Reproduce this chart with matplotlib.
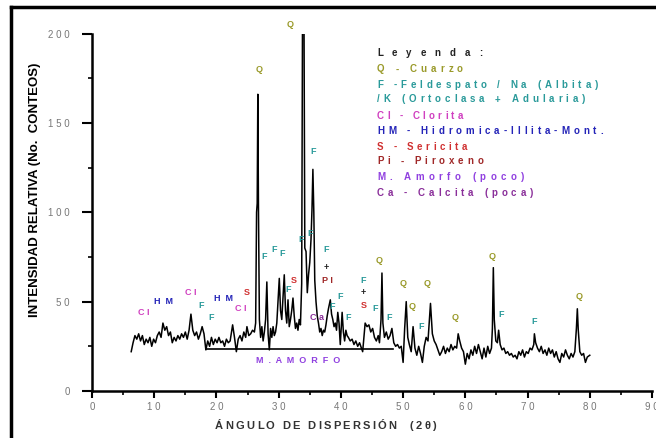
import matplotlib
matplotlib.use("Agg")
import matplotlib.pyplot as plt
from matplotlib.lines import Line2D
from matplotlib.font_manager import FontProperties
from matplotlib.ticker import MultipleLocator, FixedLocator, FixedFormatter

plt.rcParams['font.family'] = ['Liberation Sans', 'DejaVu Sans']

# ---- data ----
two_theta = [6.3, 6.6, 6.9, 7.2, 7.5, 7.8, 8.1, 8.4, 8.7, 9.0, 9.3, 9.6, 9.9, 10.2, 10.5, 10.8,
             11.1, 11.4, 11.7, 12.0, 12.3, 12.6, 12.9, 13.2, 13.5, 13.8, 14.1, 14.4, 14.7, 15.0,
             15.3, 15.6, 15.9, 16.2, 16.5, 16.8, 17.1, 17.4, 17.7, 18.0, 18.3, 18.6, 18.9, 19.2,
             19.5, 19.8, 20.1, 20.4, 20.7, 21.0, 21.3, 21.6, 21.9, 22.2, 22.6, 22.9, 23.2, 23.5,
             23.8, 24.1, 24.4, 24.7, 24.9, 25.2, 25.5, 25.8, 26.1, 26.3, 26.45, 26.55, 26.65,
             26.75, 26.9, 27.1, 27.3, 27.5, 27.7, 27.9, 28.1, 28.3, 28.5, 28.7, 28.9, 29.1, 29.3,
             29.5, 29.7, 29.9, 30.1, 30.3, 30.5, 30.7, 30.9, 31.1, 31.3, 31.5, 31.7, 31.9, 32.1,
             32.3, 32.5, 32.7, 32.9, 33.1, 33.3, 33.5, 33.7, 33.85, 34.05, 34.2, 34.4, 34.6, 34.8,
             35.0, 35.2, 35.35, 35.5, 35.65, 35.8, 36.0, 36.2, 36.4, 36.6, 36.8, 37.0, 37.2, 37.4,
             37.6, 37.8, 38.0, 38.3, 38.5, 38.7, 38.9, 39.1, 39.3, 39.5, 39.7, 39.9, 40.2, 40.4,
             40.6, 40.8, 41.0, 41.2, 41.5, 41.8, 42.1, 42.4, 42.7, 43.0, 43.3, 43.5, 43.7, 43.9,
             44.2, 44.5, 44.8, 45.1, 45.4, 45.7, 46.0, 46.2, 46.45, 46.6, 46.75, 47.0, 47.3, 47.6,
             47.9, 48.2, 48.5, 48.8, 49.1, 49.4, 49.7, 50.0, 50.25, 50.5, 50.75, 51.0, 51.3, 51.6,
             51.9, 52.2, 52.5, 52.8, 53.1, 53.4, 53.7, 54.0, 54.4, 54.7, 55.0, 55.3, 55.6, 55.9,
             56.2, 56.5, 56.8, 57.1, 57.4, 57.7, 58.0, 58.3, 58.6, 58.85, 59.1, 59.4, 59.7, 60.0,
             60.3, 60.6, 60.9, 61.2, 61.5, 61.8, 62.1, 62.4, 62.7, 63.0, 63.3, 63.6, 63.9, 64.2,
             64.35, 64.5, 64.65, 64.9, 65.15, 65.35, 65.6, 65.9, 66.2, 66.5, 66.8, 67.1, 67.4,
             67.7, 68.0, 68.3, 68.6, 68.9, 69.2, 69.5, 69.8, 70.1, 70.4, 70.7, 71.0, 71.1, 71.3,
             71.6, 71.9, 72.2, 72.5, 72.8, 73.1, 73.4, 73.7, 74.0, 74.3, 74.6, 74.9, 75.2, 75.5,
             75.8, 76.1, 76.4, 76.7, 77.0, 77.3, 77.6, 77.85, 78.0, 78.15, 78.4, 78.7, 79.0, 79.3,
             79.6, 80.0]
counts = [22, 27, 31, 29, 32, 28, 31, 26, 29, 27, 30, 25, 29, 27, 31, 33,
          30, 38, 34, 36, 31, 33, 27, 30, 28, 31, 29, 32, 30, 33,
          29, 34, 43, 34, 31, 33, 29, 32, 36, 32, 23, 28, 25, 30,
          26, 29, 27, 30, 27, 28, 25, 29, 27, 28, 37, 30, 22, 29,
          31, 28, 33, 30, 36, 31, 32, 34, 33, 38, 100, 105, 166,
          104, 40, 30, 36, 28, 33, 40, 61, 32, 23, 35, 30, 36, 31,
          33, 38, 50, 63, 45, 40, 52, 65, 45, 38, 51, 36, 40, 45,
          52, 42, 35, 38, 34, 40, 37, 60, 230, 230, 80, 78, 55, 65,
          72, 85, 101, 124, 100, 62, 50, 42, 38, 33, 35, 31, 34, 33,
          37, 42, 46, 51, 43, 40, 36, 38, 34, 44, 38, 26, 44, 33,
          28, 34, 31, 30, 28, 29, 26, 28, 25, 27, 24, 22, 30, 38,
          36, 37, 33, 35, 30, 28, 31, 27, 40, 66, 38, 30, 33, 29,
          31, 35, 27, 25, 26, 24, 25, 16, 35, 50, 30, 26, 22, 36,
          24, 20, 25, 21, 16, 25, 30, 28, 49, 32, 28, 26, 23, 20,
          22, 25, 21, 24, 22, 26, 23, 25, 24, 32, 28, 24, 22, 15,
          21, 18, 23, 20, 25, 21, 26, 22, 18, 24, 19, 25, 21, 24,
          35, 69, 40, 28, 27, 34, 26, 23, 24, 21, 22, 20, 21,
          19, 20, 18, 22, 20, 23, 19, 22, 21, 24, 23, 26, 32, 27,
          24, 22, 25, 21, 23, 20, 24, 21, 23, 19, 22, 18, 16, 21,
          19, 23, 20, 18, 21, 19, 22, 35, 46, 34, 22, 20, 21, 16,
          19, 20]

amorfo_x = [18.3, 48.4]
amorfo_y = [23.5, 23.5]

# peak labels: (text, x, y, colour key)
peak_labels = [
    ("Q", 26.8, 180, "Q"), ("Q", 31.8, 205, "Q"), ("F", 35.5, 134, "F"),
    ("F", 27.6, 75, "F"), ("F", 29.3, 79, "F"), ("F", 30.5, 77, "F"),
    ("F", 31.5, 57, "F"), ("S", 32.5, 62, "S"), ("F", 33.6, 85, "F"), ("F", 35.0, 88, "F"),
    ("F", 37.6, 79, "F"), ("+", 37.6, 69, "K"), ("P I", 37.8, 62, "Pi"),
    ("F", 38.6, 47, "F"), ("F", 39.9, 53, "F"), ("C a", 36.2, 41, "Ca"), ("F", 41.1, 41, "F"),
    ("F", 43.6, 62, "F"), ("+", 43.6, 55, "K"), ("S", 43.6, 48, "S"),
    ("F", 45.5, 46, "F"), ("F", 47.8, 41, "F"), ("Q", 46.2, 73, "Q"),
    ("Q", 50.0, 60, "Q"), ("Q", 51.4, 47, "Q"), ("Q", 53.8, 60, "Q"), ("F", 52.9, 36, "F"),
    ("Q", 58.4, 41, "Q"), ("Q", 64.3, 75, "Q"), ("F", 65.8, 43, "F"),
    ("F", 71.1, 39, "F"), ("Q", 78.3, 53, "Q"),
    ("C I", 8.3, 44, "Cl"), ("H  M", 11.5, 50, "HM"), ("C I", 15.8, 55, "Cl"),
    ("F", 17.5, 48, "F"), ("F", 19.1, 41, "F"), ("H  M", 21.2, 52, "HM"),
    ("C I", 23.9, 46, "Cl"), ("S", 24.9, 55, "S"),
    ("M  .  A  M  O  R  F  O", 33.1, 17, "M"),
]

legend_lines = [
    ("Leyenda:", "K"),
    ("Q - Cuarzo", "Q"),
    ("F -Feldespato / Na (Albita)", "F"),
    ("/K (Ortoclasa + Adularia)", "F"),
    ("Cl - Clorita", "Cl"),
    ("HM - Hidromica-Illita-Mont.", "HM"),
    ("S - Sericita", "S"),
    ("Pi - Piroxeno", "Pi"),
    ("M. Amorfo (poco)", "M"),
    ("Ca - Calcita (poca)", "Ca"),
]
# right end (px) of each legend line in the reference, for letter spacing
legend_right_px = [482, 463, 598, 585, 463, 603, 467, 483, 524, 533]

colors = {"K": "#222222", "Q": "#9a9a2a", "F": "#2a9a9a", "Cl": "#d040c0",
          "HM": "#2424b8", "S": "#d03030", "Pi": "#a02828", "M": "#9040e0", "Ca": "#8a2f9a"}

x_ticks = [0, 10, 20, 30, 40, 50, 60, 70, 80, 90]
x_tick_labels = ["0", "1 0", "2 0", "3 0", "4 0", "5 0", "6 0", "7 0", "8 0", "9 0"]
y_ticks = [0, 50, 100, 150, 200]
y_tick_labels = ["0", "5 0", "1 0 0", "1 5 0", "2 0 0"]

# ---- figure ----
W, H = 656, 438
fig = plt.figure(figsize=(W / 100, H / 100), dpi=100)
fig.patch.set_facecolor("white")
ax = fig.add_axes([92 / W, 1 - 391 / H, 560 / W, 357.5 / H])
renderer = fig.canvas.get_renderer()


def spaced_text(x_left_px, y_base_px, s, size, width_px, color):
    """Draw a string with extra letter spacing so it spans width_px."""
    prop = FontProperties(family=['Liberation Sans', 'DejaVu Sans'], size=size, weight='bold')
    widths = []
    for c in s:
        if c == ' ':
            widths.append(0.28 * size * 100 / 72)
        else:
            w, h, d = renderer.get_text_width_height_descent(c, prop, ismath=False)
            widths.append(w)
    track = (width_px - sum(widths)) / max(len(s) - 1, 1)
    x = x_left_px
    for c, w in zip(s, widths):
        if c != ' ':
            fig.text(x / W, 1 - y_base_px / H, c, fontproperties=prop, color=color,
                     ha='left', va='baseline')
        x += w + track


ax.plot(two_theta, counts, color="black", lw=1.1)
ax.plot(amorfo_x, amorfo_y, color="black", lw=1.2)

ax.set_xlim(0, 90)
ax.set_ylim(0, 200)
for s in ("top", "right"):
    ax.spines[s].set_visible(False)
for s in ("left", "bottom"):
    ax.spines[s].set_linewidth(1.8)

ax.xaxis.set_major_locator(FixedLocator(x_ticks))
ax.xaxis.set_major_formatter(FixedFormatter(x_tick_labels))
ax.xaxis.set_minor_locator(MultipleLocator(5))
ax.yaxis.set_major_locator(FixedLocator(y_ticks))
ax.yaxis.set_major_formatter(FixedFormatter(y_tick_labels))
ax.yaxis.set_minor_locator(MultipleLocator(25))
ax.tick_params(axis="x", which="major", length=5, width=1.5, pad=3, labelsize=7, labelcolor="#777777")
ax.tick_params(axis="x", which="minor", length=3, width=1.2)
ax.tick_params(axis="y", which="major", length=7, width=1.5, pad=9, labelsize=7, labelcolor="#777777")
ax.tick_params(axis="y", which="minor", length=3, width=1.2)

# y axis title
fig.text(35 / W, 1 - 190 / H, "INTENSIDAD RELATIVA (No.  CONTEOS)", fontsize=9.5,
         fontweight="bold", rotation=90, ha="center", va="center")

# x axis title (letter spaced)
spaced_text(215, 429, "ÁNGULO DE DISPERSIÓN  (2θ)", 8, 221, "#333333")

for txt, x, y, key in peak_labels:
    ax.text(x, y, txt, color=colors[key], fontsize=6.5, fontweight="bold",
            ha="center", va="center")

legend_y_px = [52, 69, 84, 99, 115, 130, 146, 161, 177, 192]
for (txt, key), yc, xr in zip(legend_lines, legend_y_px, legend_right_px):
    spaced_text(377, yc + 3.5, txt, 7, xr - 377, colors[key])

# outer frame (left and top edges visible)
fig.add_artist(Line2D([11 / W, 11 / W], [-0.01, 1 - 7 / H], transform=fig.transFigure,
                      color="black", lw=2.5))
fig.add_artist(Line2D([11 / W, 1.01], [1 - 7 / H, 1 - 7 / H], transform=fig.transFigure,
                      color="black", lw=2.5))

fig.savefig("out.png", dpi=100)
